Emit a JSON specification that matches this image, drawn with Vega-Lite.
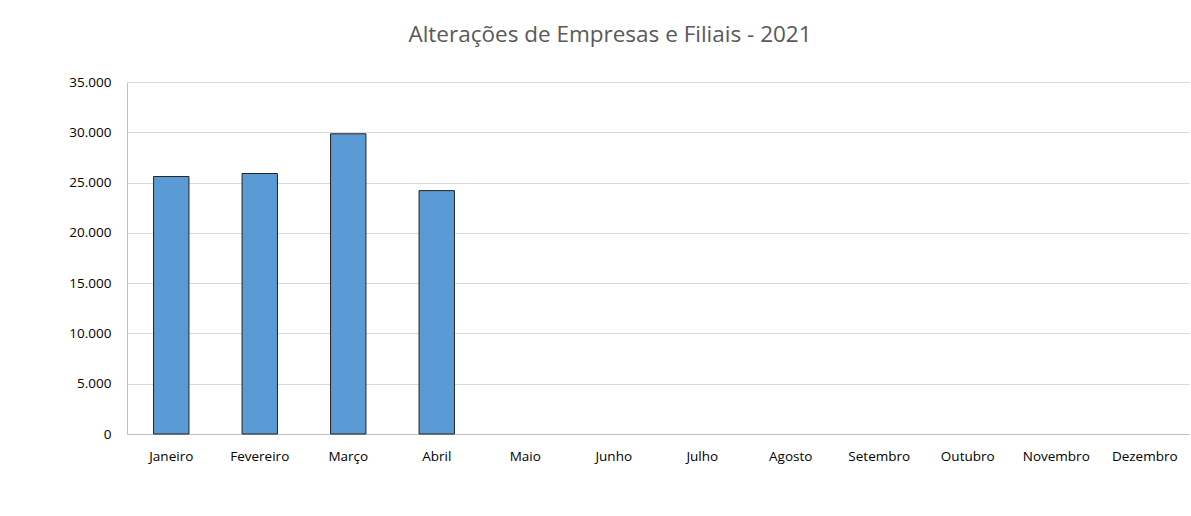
{
  "$schema": "https://vega.github.io/schema/vega-lite/v6.json",
  "autosize": {"type": "none"},
  "width": 1062,
  "height": 352,
  "padding": {"left": 127, "top": 82, "right": 2, "bottom": 82},
  "background": "white",
  "title": {
    "text": "Alterações de Empresas e Filiais - 2021",
    "font": "Open Sans",
    "fontSize": 22.5,
    "fontWeight": "normal",
    "color": "#595959",
    "anchor": "middle",
    "frame": "group",
    "dx": -48,
    "offset": 29
  },
  "data": {
    "values": [
      {"mes": "Janeiro", "valor": 25600},
      {"mes": "Fevereiro", "valor": 25900},
      {"mes": "Março", "valor": 29850},
      {"mes": "Abril", "valor": 24200},
      {"mes": "Maio", "valor": null},
      {"mes": "Junho", "valor": null},
      {"mes": "Julho", "valor": null},
      {"mes": "Agosto", "valor": null},
      {"mes": "Setembro", "valor": null},
      {"mes": "Outubro", "valor": null},
      {"mes": "Novembro", "valor": null},
      {"mes": "Dezembro", "valor": null}
    ]
  },
  "mark": {"type": "bar", "color": "#5B9BD5", "stroke": "#222222", "strokeWidth": 1},
  "encoding": {
    "x": {
      "field": "mes",
      "type": "nominal",
      "sort": null,
      "scale": {
        "domain": ["Janeiro", "Fevereiro", "Março", "Abril", "Maio", "Junho", "Julho", "Agosto", "Setembro", "Outubro", "Novembro", "Dezembro"],
        "paddingInner": 0.6,
        "paddingOuter": 0.3
      },
      "axis": {
        "title": null,
        "labelAngle": 0,
        "labelFont": "Open Sans",
        "labelFontSize": 13.5,
        "labelColor": "#000000",
        "labelPadding": 15,
        "ticks": false,
        "domainColor": "#BFBFBF",
        "domainWidth": 1
      }
    },
    "y": {
      "field": "valor",
      "type": "quantitative",
      "scale": {"domain": [0, 35000], "nice": false},
      "axis": {
        "title": null,
        "values": [0, 5000, 10000, 15000, 20000, 25000, 30000, 35000],
        "labelExpr": "replace(format(datum.value, ','), ',', '.')",
        "labelFont": "Open Sans",
        "labelFontSize": 13.5,
        "labelColor": "#000000",
        "labelPadding": 16,
        "ticks": false,
        "domain": true,
        "domainColor": "#BFBFBF",
        "gridColor": "#D9D9D9",
        "gridWidth": 1
      }
    }
  },
  "config": {
    "view": {"stroke": null}
  }
}
